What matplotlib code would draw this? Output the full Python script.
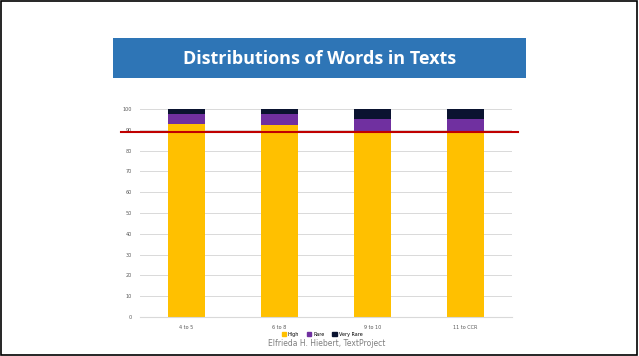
import matplotlib
matplotlib.use("Agg")
import matplotlib.pyplot as plt
from matplotlib.patches import Rectangle, Patch

cats = ["4 to 5", "6 to 8", "9 to 10", "11 to CCR"]
high = [92.8, 92.3, 88.8, 88.6]
rare = [4.6, 5.1, 6.5, 6.7]
very_rare = [2.6, 2.6, 4.7, 4.7]
ref_line = 89.1
yticks = list(range(0, 101, 10))

fig = plt.figure(figsize=(6.39, 3.56), dpi=100)
fig.patch.set_facecolor("white")
# slide frame
fig.add_artist(Rectangle((0.002, 0.003), 0.995, 0.994, transform=fig.transFigure,
                         fill=False, ec="black", lw=1.2))
# title banner
fig.add_artist(Rectangle((113/639, 1-78/356), 413/639, 40/356, transform=fig.transFigure,
                         fc="#2E75B6", ec="none"))
fig.text(319.5/639, 1-59/356, "Distributions of Words in Texts", color="white",
         fontsize=13, fontweight="bold", ha="center", va="center", family="Open Sans")

ax = fig.add_axes([140/639, 1-317/356, 372/639, 208/356])
x = range(len(cats))
w = 0.4
ax.bar(x, high, w, color="#FFC000", zorder=2)
ax.bar(x, rare, w, bottom=high, color="#7030A0", zorder=2)
bot2 = [a + b for a, b in zip(high, rare)]
ax.bar(x, very_rare, w, bottom=bot2, color="#0A1330", zorder=2)

ax.axhline(ref_line, xmin=-0.05, xmax=1.015, color="#C00000", lw=1.5, zorder=3, clip_on=False)

ax.set_xlim(-0.5, 3.5)
ax.set_ylim(0, 100)
ax.set_yticks(yticks)
ax.set_yticklabels([str(t) for t in yticks], fontsize=3.5, color="#595959")
ax.set_xticks(list(x))
ax.set_xticklabels(cats, fontsize=3.5, color="#595959")
ax.tick_params(length=0, pad=6)
ax.grid(axis="y", color="#D9D9D9", lw=0.7, zorder=0)
for s in ["top", "right", "left"]:
    ax.spines[s].set_visible(False)
ax.spines["bottom"].set_color("#D9D9D9")

handles = [Patch(color="#FFC000", label="High"), Patch(color="#7030A0", label="Rare"),
           Patch(color="#0A1330", label="Very Rare")]
fig.legend(handles=handles, loc="center", bbox_to_anchor=(322/639, 1-334.5/356), ncol=3,
           fontsize=3.5, frameon=False, handlelength=0.9, handleheight=0.9,
           columnspacing=1.6, handletextpad=0.4, borderpad=0.1)

fig.text(327/639, 1-344/356, "Elfrieda H. Hiebert, TextProject", color="#7F7F7F",
         fontsize=5.5, ha="center", va="center")

fig.savefig("out.png", dpi=100)
